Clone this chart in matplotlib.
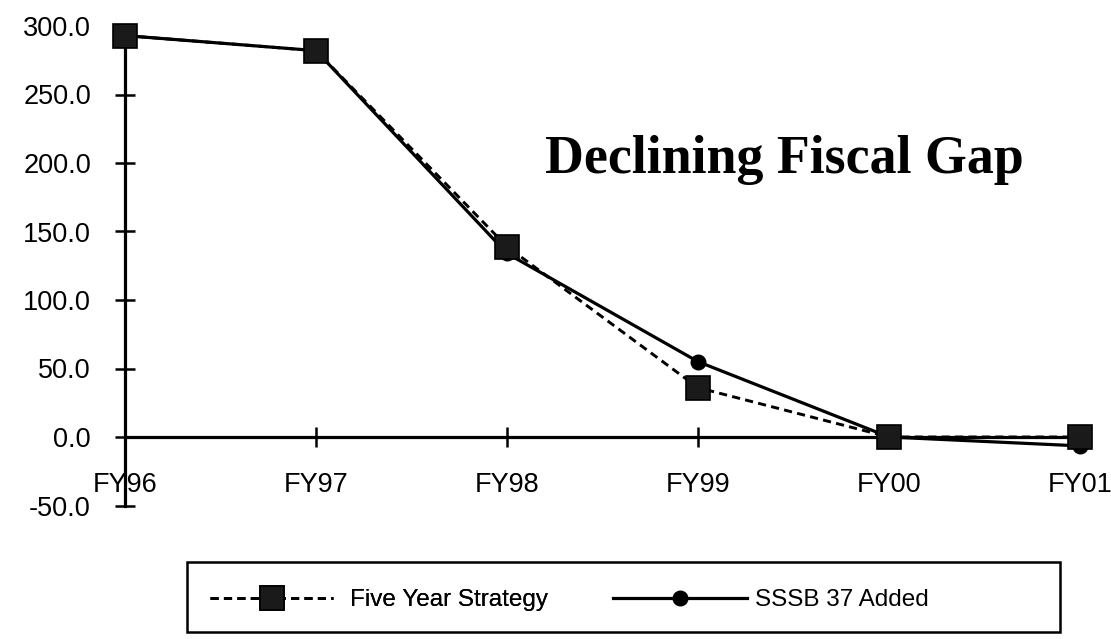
import matplotlib
matplotlib.use("Agg")
import matplotlib.pyplot as plt
from matplotlib.patches import Rectangle

categories = ["FY96", "FY97", "FY98", "FY99", "FY00", "FY01"]
five_year = [293, 282, 139, 36, 0, 0]
sssb = [293, 282, 134, 55, 0, -6.5]
yticks = [-50, 0, 50, 100, 150, 200, 250, 300]
title = "Declining Fiscal Gap"

W, H = 1111, 639
fig = plt.figure(figsize=(W / 100, H / 100), dpi=100)
left, right = 125 / W, 1080 / W
bottom, top = 1 - 505.5 / H, 1 - 26 / H
ax = fig.add_axes([left, bottom, right - left, top - bottom])

x = list(range(len(categories)))
l2, = ax.plot(x, sssb, color="black", lw=2.3, marker="o", ms=10.5,
              label="SSSB 37 Added", clip_on=False, zorder=3)
l1, = ax.plot(x, five_year, color="black", lw=2.1, ls=(0, (2.8, 1.8)),
              marker="s", ms=17, mew=1.2, mfc="#1a1a1a", mec="black",
              label="Five Year Strategy", clip_on=False, zorder=4)

ax.set_xlim(0, len(categories) - 1)
ax.set_ylim(-50, 300)
ax.set_xticks(x)
ax.set_xticklabels(categories)
ax.set_yticks(yticks)
ax.set_yticklabels([f"{v:.1f}" for v in yticks])

for s in ("top", "right"):
    ax.spines[s].set_visible(False)
ax.spines["bottom"].set_position(("data", 0))
ax.spines["left"].set_linewidth(2.3)
ax.spines["bottom"].set_linewidth(2.3)

tickfont = "Liberation Sans"
ax.tick_params(axis="y", direction="inout", length=14, width=1.8, pad=17.5,
               labelsize=19.5)
ax.tick_params(axis="x", direction="inout", length=15, width=1.8, pad=18,
               labelsize=19.5)
for lab in ax.get_xticklabels() + ax.get_yticklabels():
    lab.set_fontfamily(tickfont)

fig.text(545 / W, 1 - 173 / H, title, ha="left", va="baseline",
         fontsize=38.8, fontfamily="Liberation Serif", fontweight="bold")

# legend
fs = 17.5
em = fs * 100 / 72
leg1 = fig.legend(handles=[l1], loc="center left",
                  bbox_to_anchor=(210 / W, 1 - 600 / H), frameon=False,
                  borderpad=0, borderaxespad=0, handlelength=123 / em,
                  handletextpad=17 / em, numpoints=1,
                  prop={"family": tickfont, "size": fs})
leg2 = fig.legend(handles=[l2], loc="center left",
                  bbox_to_anchor=(613 / W, 1 - 600 / H), frameon=False,
                  borderpad=0, borderaxespad=0, handlelength=134 / em,
                  handletextpad=8 / em, numpoints=1,
                  prop={"family": tickfont, "size": fs})
fig.add_artist(leg1)
fig.patches.append(Rectangle((187 / W, 1 - 632 / H), (1060 - 187) / W,
                             (632 - 562) / H, transform=fig.transFigure,
                             fill=False, edgecolor="black", lw=1.8))

fig.savefig("out.png", dpi=100)
